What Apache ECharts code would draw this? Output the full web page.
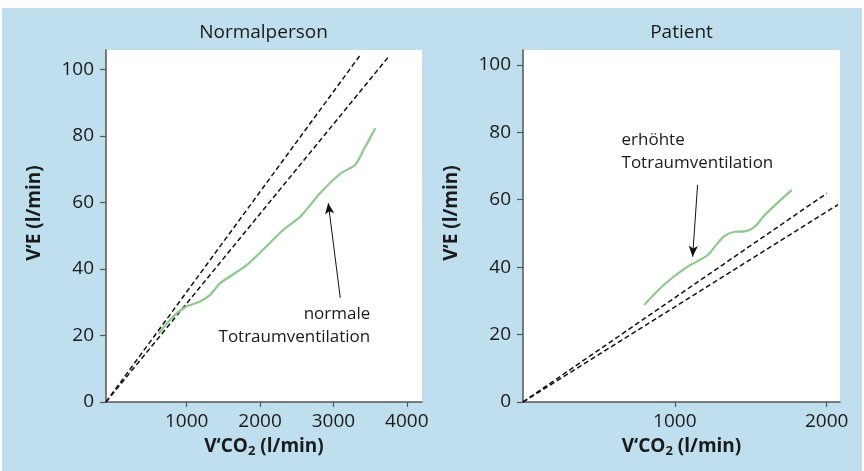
<!DOCTYPE html>
<html lang="de">
<head>
  <meta charset="UTF-8">
  <title>Totraumventilation</title>
  <script src="https://cdn.jsdelivr.net/npm/echarts@6/dist/echarts.min.js"></script>
  <style>
    html, body { margin: 0; padding: 0; background: #fff; }
    #chart { width: 864px; height: 471px; }
  </style>
</head>
<body>
  <div id="chart"></div>

  <script>
    // Panel-Titel
    var titles = ['Normalperson', 'Patient'];

    // Achsenbeschriftung
    var yTicks = [0, 20, 40, 60, 80, 100];
    var xTicksLeft = [1000, 2000, 3000, 4000];
    var xTicksRight = [1000, 2000];

    // Normalperson: V'CO2 / V'E
    var normalCurve = [
      [614, 20.5], [814, 25.6], [978, 28.5], [1183, 30.2], [1319, 32.2],
      [1456, 35.7], [1820, 41.2], [2315, 51.7], [2547, 55.7], [2820, 62.8],
      [3093, 68.6], [3297, 71.3], [3411, 75.8], [3571, 82.3]
    ];
    var normalDash1 = [[-100, 0], [3366, 104.3]];
    var normalDash2 = [[-100, 0], [3760, 104.0]];

    // Patient
    var patientCurve = [
      [798, 28.8], [934, 35.0], [1072, 39.8], [1217, 43.6], [1283, 47.2],
      [1329, 49.3], [1395, 50.5], [1461, 50.6], [1527, 52.0], [1593, 55.5],
      [1771, 62.9]
    ];
    var patientDash1 = [[0, 0], [2001, 61.9]];
    var patientDash2 = [[0, 0], [2074, 58.5]];

    // Anmerkungen (Pfeil: Start -> Spitze)
    var normalArrow = [[3093, 31.3], [2929, 59.8]];
    var normalNote = [3502, 23];
    var patientArrow = [[1150, 64.4], [1117, 43.1]];
    var patientNote = [649, 74.2];

    var FONT = 'Open Sans';
    var TXT = '#1a1a1a';
    var GREEN = '#8dc88d';

    function xAxisOf(idx, min, max, ticks) {
      return {
        type: 'value', gridIndex: idx, min: min, max: max,
        name: '{a|V‘CO}{s|2}{a| (l/min)}',
        nameLocation: 'middle', nameGap: 33,
        nameTextStyle: {
          rich: {
            a: { fontFamily: FONT, fontSize: 19, fontWeight: 'bold', color: TXT },
            s: { fontFamily: FONT, fontSize: 13, fontWeight: 'bold', color: TXT, padding: [10, 0, 0, 0] }
          }
        },
        splitLine: { show: false },
        axisLine: { show: true, onZero: false, lineStyle: { color: '#555', width: 1.5 } },
        axisTick: { show: true, customValues: ticks, length: 5, lineStyle: { color: '#555', width: 1.2 } },
        axisLabel: {
          customValues: ticks, margin: 10, fontFamily: FONT, fontSize: 19, color: TXT,
          formatter: function (v) { return String(v); }
        }
      };
    }

    function yAxisOf(idx, max) {
      return {
        type: 'value', gridIndex: idx, min: 0, max: max,
        name: 'V‘E (l/min)', nameLocation: 'middle', nameGap: 62, nameRotate: 90,
        nameTextStyle: { fontFamily: FONT, fontSize: 19, fontWeight: 'bold', color: TXT, padding: [0, 0, 0, 26] },
        splitLine: { show: false },
        axisLine: { show: true, onZero: false, lineStyle: { color: '#555', width: 1.5 } },
        axisTick: { show: true, customValues: yTicks, length: 6, lineStyle: { color: '#555', width: 1.2 } },
        axisLabel: {
          customValues: yTicks, margin: 12, fontFamily: FONT, fontSize: 19, color: TXT,
          formatter: function (v) { return String(v); }
        }
      };
    }

    function dash(idx, data) {
      return {
        type: 'line', xAxisIndex: idx, yAxisIndex: idx, data: data,
        showSymbol: false, silent: true,
        lineStyle: { color: '#111', width: 1.5, type: [5, 3] }
      };
    }

    function curve(idx, data, arrow, note, align) {
      return {
        type: 'line', xAxisIndex: idx, yAxisIndex: idx, data: data,
        showSymbol: false, smooth: 0.25, silent: true,
        lineStyle: { color: GREEN, width: 2.2 },
        markLine: {
          silent: true, animation: false,
          symbol: ['none', 'arrow'], symbolSize: [7, 11],
          label: { show: false },
          lineStyle: { color: '#111', width: 1, type: 'solid' },
          data: [[{ coord: arrow[0] }, { coord: arrow[1] }]]
        },
        markPoint: {
          silent: true, animation: false,
          symbolSize: 0,
          data: [{
            coord: note,
            label: {
              show: true, position: 'inside',
              align: align, verticalAlign: 'middle',
              formatter: idx === 0 ? 'normale\nTotraumventilation' : 'erhöhte\nTotraumventilation',
              fontFamily: FONT, fontSize: 17, lineHeight: 23, color: TXT
            }
          }]
        }
      };
    }

    var chart = echarts.init(document.getElementById('chart'));
    chart.setOption({
      animation: false,
      backgroundColor: '#fff',
      graphic: [{
        type: 'rect', z: -10, silent: true,
        shape: { x: 2, y: 8, width: 860, height: 463 },
        style: { fill: '#bfdfee' }
      }],
      title: [
        { text: titles[0], left: 263.5, top: 23, textAlign: 'center', padding: 0,
          textStyle: { fontFamily: FONT, fontSize: 19, fontWeight: 'normal', color: TXT } },
        { text: titles[1], left: 681.5, top: 23, textAlign: 'center', padding: 0,
          textStyle: { fontFamily: FONT, fontSize: 19, fontWeight: 'normal', color: TXT } }
      ],
      grid: [
        { left: 106, right: 442, top: 50, bottom: 69, show: true, backgroundColor: '#fff', borderWidth: 0 },
        { left: 523, right: 24, top: 50, bottom: 69, show: true, backgroundColor: '#fff', borderWidth: 0 }
      ],
      xAxis: [
        xAxisOf(0, -100, 4207, xTicksLeft),
        xAxisOf(1, 0, 2088, xTicksRight)
      ],
      yAxis: [
        yAxisOf(0, 105.8),
        yAxisOf(1, 104.4)
      ],
      series: [
        dash(0, normalDash1),
        dash(0, normalDash2),
        curve(0, normalCurve, normalArrow, normalNote, 'right'),
        dash(1, patientDash1),
        dash(1, patientDash2),
        curve(1, patientCurve, patientArrow, patientNote, 'left')
      ]
    });
  </script>
</body>
</html>
